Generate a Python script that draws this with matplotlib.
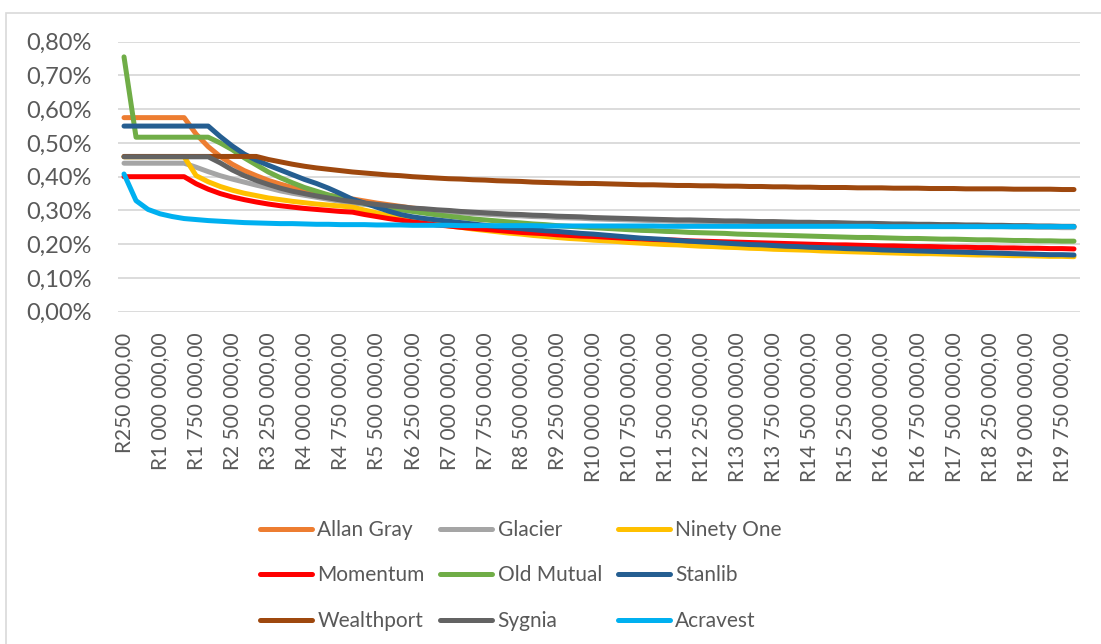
import numpy as np
import matplotlib
matplotlib.use("Agg")
import matplotlib.pyplot as plt
from matplotlib.patches import Rectangle

plt.rcParams['font.family'] = ['Lato', 'DejaVu Sans']

# Portfolio sizes: R250 000 to R20 000 000 in R250 000 steps
amounts = [250000 * k for k in range(1, 81)]

# Effective annual fee (%) per provider
allan_gray = [
    0.575, 0.575, 0.575, 0.575, 0.575, 0.575, 0.526, 0.489, 0.460, 0.437,
    0.418, 0.403, 0.389, 0.378, 0.368, 0.359, 0.352, 0.345, 0.339, 0.334,
    0.328, 0.322, 0.317, 0.312, 0.307, 0.303, 0.300, 0.298, 0.295, 0.293,
    0.291, 0.289, 0.287, 0.286, 0.284, 0.283, 0.281, 0.280, 0.279, 0.277,
    0.276, 0.275, 0.274, 0.273, 0.272, 0.271, 0.270, 0.270, 0.269, 0.268,
    0.267, 0.267, 0.266, 0.265, 0.265, 0.264, 0.263, 0.263, 0.262, 0.262,
    0.261, 0.260, 0.260, 0.259, 0.258, 0.258, 0.257, 0.257, 0.256, 0.256,
    0.255, 0.255, 0.254, 0.254, 0.253, 0.253, 0.252, 0.252, 0.251, 0.251]
glacier = [
    0.440, 0.440, 0.440, 0.440, 0.440, 0.440, 0.428, 0.415, 0.403, 0.393,
    0.384, 0.375, 0.367, 0.358, 0.351, 0.345, 0.339, 0.333, 0.327, 0.322,
    0.318, 0.314, 0.310, 0.307, 0.303, 0.301, 0.298, 0.296, 0.293, 0.291,
    0.289, 0.287, 0.285, 0.284, 0.282, 0.281, 0.279, 0.278, 0.277, 0.275,
    0.274, 0.273, 0.272, 0.271, 0.270, 0.269, 0.268, 0.268, 0.267, 0.266,
    0.265, 0.265, 0.264, 0.263, 0.263, 0.262, 0.261, 0.261, 0.260, 0.260,
    0.259, 0.258, 0.258, 0.257, 0.256, 0.256, 0.255, 0.255, 0.254, 0.254,
    0.253, 0.253, 0.252, 0.252, 0.251, 0.251, 0.250, 0.250, 0.249, 0.249]
ninety_one = [
    0.459, 0.459, 0.459, 0.459, 0.459, 0.459, 0.403, 0.385, 0.371, 0.360,
    0.351, 0.344, 0.337, 0.332, 0.327, 0.323, 0.319, 0.316, 0.313, 0.310,
    0.301, 0.293, 0.285, 0.278, 0.271, 0.265, 0.260, 0.254, 0.250, 0.245,
    0.241, 0.237, 0.233, 0.230, 0.226, 0.223, 0.220, 0.217, 0.215, 0.212,
    0.210, 0.208, 0.205, 0.203, 0.201, 0.199, 0.198, 0.196, 0.194, 0.193,
    0.191, 0.190, 0.188, 0.187, 0.185, 0.184, 0.183, 0.182, 0.180, 0.179,
    0.178, 0.177, 0.176, 0.175, 0.174, 0.173, 0.172, 0.172, 0.171, 0.170,
    0.169, 0.168, 0.168, 0.167, 0.166, 0.166, 0.165, 0.164, 0.164, 0.163]
momentum = [
    0.400, 0.400, 0.400, 0.400, 0.400, 0.400, 0.379, 0.363, 0.350, 0.340,
    0.332, 0.325, 0.319, 0.314, 0.310, 0.306, 0.303, 0.300, 0.297, 0.295,
    0.288, 0.282, 0.276, 0.271, 0.266, 0.262, 0.257, 0.254, 0.250, 0.247,
    0.244, 0.241, 0.238, 0.235, 0.233, 0.231, 0.228, 0.226, 0.224, 0.223,
    0.221, 0.219, 0.217, 0.216, 0.214, 0.213, 0.212, 0.210, 0.209, 0.208,
    0.207, 0.206, 0.205, 0.204, 0.203, 0.202, 0.201, 0.200, 0.199, 0.198,
    0.198, 0.197, 0.196, 0.195, 0.195, 0.194, 0.193, 0.193, 0.192, 0.191,
    0.191, 0.190, 0.190, 0.189, 0.189, 0.188, 0.188, 0.187, 0.187, 0.186]
old_mutual = [
    0.755, 0.517, 0.517, 0.517, 0.517, 0.517, 0.517, 0.517, 0.500, 0.480,
    0.456, 0.435, 0.414, 0.397, 0.382, 0.368, 0.357, 0.346, 0.337, 0.328,
    0.321, 0.314, 0.308, 0.302, 0.297, 0.292, 0.287, 0.283, 0.279, 0.275,
    0.272, 0.269, 0.266, 0.263, 0.260, 0.258, 0.255, 0.253, 0.251, 0.249,
    0.247, 0.245, 0.243, 0.241, 0.240, 0.238, 0.237, 0.235, 0.234, 0.233,
    0.232, 0.230, 0.229, 0.228, 0.227, 0.226, 0.225, 0.224, 0.223, 0.222,
    0.221, 0.220, 0.220, 0.219, 0.218, 0.217, 0.217, 0.216, 0.215, 0.215,
    0.214, 0.213, 0.213, 0.212, 0.211, 0.211, 0.210, 0.210, 0.209, 0.209]
stanlib = [
    0.550, 0.550, 0.550, 0.550, 0.550, 0.550, 0.550, 0.550, 0.519, 0.491,
    0.467, 0.449, 0.434, 0.420, 0.406, 0.392, 0.380, 0.366, 0.350, 0.333,
    0.322, 0.310, 0.298, 0.288, 0.281, 0.276, 0.272, 0.268, 0.264, 0.260,
    0.256, 0.252, 0.249, 0.246, 0.243, 0.240, 0.238, 0.235, 0.232, 0.230,
    0.227, 0.224, 0.221, 0.218, 0.216, 0.214, 0.211, 0.209, 0.207, 0.205,
    0.203, 0.201, 0.199, 0.198, 0.196, 0.194, 0.193, 0.191, 0.190, 0.189,
    0.187, 0.186, 0.185, 0.183, 0.182, 0.181, 0.180, 0.179, 0.178, 0.177,
    0.176, 0.175, 0.174, 0.173, 0.172, 0.171, 0.170, 0.169, 0.169, 0.168]
wealthport = [
    0.460, 0.460, 0.460, 0.460, 0.460, 0.460, 0.460, 0.460, 0.460, 0.460,
    0.460, 0.460, 0.451, 0.444, 0.437, 0.431, 0.426, 0.422, 0.418, 0.414,
    0.411, 0.408, 0.405, 0.403, 0.400, 0.398, 0.396, 0.394, 0.393, 0.391,
    0.390, 0.388, 0.387, 0.386, 0.384, 0.383, 0.382, 0.381, 0.380, 0.380,
    0.379, 0.378, 0.377, 0.376, 0.376, 0.375, 0.374, 0.374, 0.373, 0.373,
    0.372, 0.372, 0.371, 0.371, 0.370, 0.370, 0.369, 0.369, 0.368, 0.368,
    0.368, 0.367, 0.367, 0.367, 0.366, 0.366, 0.366, 0.365, 0.365, 0.365,
    0.364, 0.364, 0.364, 0.364, 0.363, 0.363, 0.363, 0.363, 0.362, 0.362]
sygnia = [
    0.459, 0.459, 0.459, 0.459, 0.459, 0.459, 0.459, 0.459, 0.441, 0.420,
    0.403, 0.389, 0.377, 0.366, 0.357, 0.350, 0.343, 0.337, 0.331, 0.326,
    0.322, 0.318, 0.314, 0.311, 0.307, 0.305, 0.302, 0.300, 0.297, 0.295,
    0.293, 0.291, 0.289, 0.288, 0.286, 0.285, 0.283, 0.282, 0.281, 0.279,
    0.278, 0.277, 0.276, 0.275, 0.274, 0.273, 0.272, 0.272, 0.271, 0.270,
    0.269, 0.269, 0.268, 0.267, 0.267, 0.266, 0.265, 0.265, 0.264, 0.264,
    0.263, 0.262, 0.262, 0.261, 0.260, 0.260, 0.259, 0.259, 0.258, 0.258,
    0.257, 0.257, 0.256, 0.256, 0.255, 0.255, 0.254, 0.254, 0.253, 0.253]
acravest = [
    0.408, 0.329, 0.303, 0.290, 0.282, 0.276, 0.273, 0.270, 0.268, 0.266,
    0.264, 0.263, 0.262, 0.261, 0.261, 0.260, 0.259, 0.259, 0.258, 0.258,
    0.258, 0.257, 0.257, 0.257, 0.256, 0.256, 0.256, 0.256, 0.255, 0.255,
    0.255, 0.255, 0.255, 0.255, 0.255, 0.254, 0.254, 0.254, 0.254, 0.254,
    0.254, 0.254, 0.254, 0.254, 0.254, 0.253, 0.253, 0.253, 0.253, 0.253,
    0.253, 0.253, 0.253, 0.253, 0.253, 0.253, 0.253, 0.253, 0.253, 0.253,
    0.253, 0.253, 0.253, 0.252, 0.252, 0.252, 0.252, 0.252, 0.252, 0.252,
    0.252, 0.252, 0.252, 0.252, 0.252, 0.252, 0.252, 0.252, 0.252, 0.252]

names = ["Allan Gray", "Glacier", "Ninety One", "Momentum", "Old Mutual",
         "Stanlib", "Wealthport", "Sygnia", "Acravest"]
series = [allan_gray, glacier, ninety_one, momentum, old_mutual,
          stanlib, wealthport, sygnia, acravest]
colors = ["#ED7D31", "#A5A5A5", "#FFC000", "#FF0000", "#70AD47",
          "#255E91", "#9E480E", "#636363", "#00B0F0"]

text_col = "#595959"

fig = plt.figure(figsize=(11.01, 6.44), dpi=100)
ax = fig.add_axes([118 / 1101, 1 - 311.7 / 644, 962 / 1101, 270 / 644])

x = np.arange(len(amounts))
lines = []
for name, vals, c in zip(names, series, colors):
    ln, = ax.plot(x, vals, color=c, lw=3.6, label=name,
                  solid_capstyle='round', solid_joinstyle='round')
    lines.append(ln)

ax.set_xlim(-0.5, len(amounts) - 0.5)
ax.set_ylim(0, 0.8)
yt = np.arange(0, 0.81, 0.1)
ax.set_yticks(yt)
ax.set_yticklabels([f"{v:.2f}%".replace('.', ',') for v in yt])
xt = x[::3]
ax.set_xticks(xt)
ax.set_xticklabels([("R" + f"{amounts[i]:,}".replace(',', ' ') + ",00") for i in xt],
                   rotation=90)
ax.tick_params(axis='both', length=0, labelcolor=text_col)
ax.tick_params(axis='x', labelsize=15, pad=15)
ax.tick_params(axis='y', labelsize=17, pad=19)
ax.grid(axis='y', color='#D9D9D9', lw=1.3)
ax.set_axisbelow(True)
for s in ax.spines.values():
    s.set_visible(False)

# legend laid out row by row like the original (3 per row)
order = [0, 3, 6, 1, 4, 7, 2, 5, 8]
leg = fig.legend([lines[i] for i in order], [names[i] for i in order],
                 ncol=3, loc='upper left', bbox_to_anchor=(260 / 1101, 1 - 520 / 644),
                 frameon=False, fontsize=15, handlelength=2.5, handletextpad=0.25,
                 columnspacing=0.75, labelspacing=1.22, borderpad=0, borderaxespad=0)
for t in leg.get_texts():
    t.set_color(text_col)

# light chart border (top and left visible)
fig.add_artist(Rectangle((6 / 1101, -0.1), 2, 1.1 - 13 / 644, transform=fig.transFigure,
                         fill=False, ec='#D9D9D9', lw=1.2))

fig.savefig("out.png", dpi=100)
